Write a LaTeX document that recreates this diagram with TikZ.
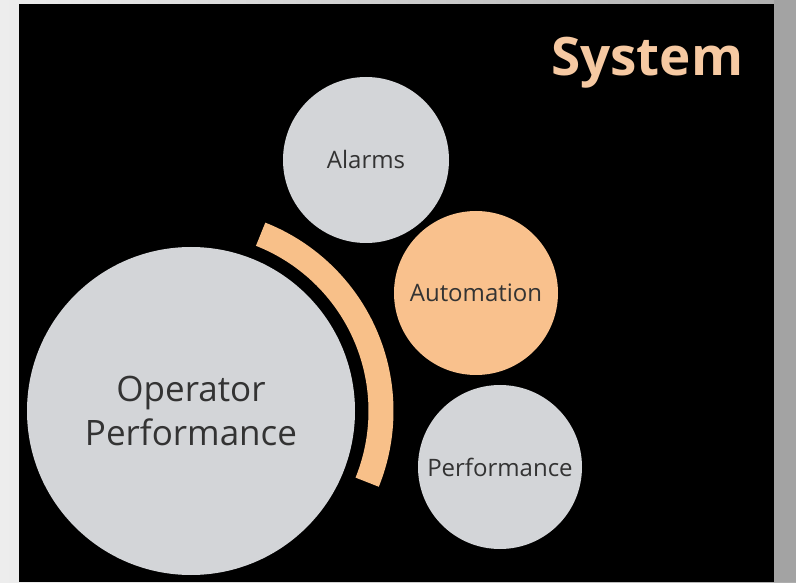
\documentclass[tikz,border=0pt]{standalone}
\usepackage{fontspec}
\setmainfont{Open Sans}
\usetikzlibrary{calc}
\definecolor{bubblegray}{HTML}{D3D5D8}
\definecolor{bubbleorange}{HTML}{F9C18D}
\definecolor{arcorange}{HTML}{F8C089}
\definecolor{labeltext}{HTML}{333333}
\definecolor{titletext}{HTML}{F6C9A2}
\definecolor{rightstrip}{HTML}{A3A3A3}
\begin{document}
\begin{tikzpicture}[x=1pt,y=1pt,
  bubble/.style={circle,inner sep=0pt,align=center,text=labeltext},
  smalllabel/.style={font=\fontsize{24}{28}\selectfont},
  biglabel/.style={font=\fontsize{35}{46}\selectfont}]
\useasboundingbox (0,0) rectangle (796,582);
\shade[left color=black!7, right color=black!32] (0,0) rectangle (796,582);
\fill[rightstrip] (774,0) rectangle (796,582);
\fill[black] (19,0) rectangle (774,578);
% arc band
\coordinate (arccenter) at (191,171);
\draw[arcorange,line width=25pt,line cap=butt]
  ($(arccenter)+(68.5:190)$) arc[start angle=68.5,end angle=-22,radius=190pt];
% bubbles
\node[bubble,fill=bubblegray,minimum size=328pt,biglabel] (operator) at (191,171) {Operator\\[-2pt]Performance};
\node[bubble,fill=bubblegray,minimum size=166pt,smalllabel] (alarms) at (366,422) {Alarms};
\node[bubble,fill=bubbleorange,minimum size=164pt,smalllabel] (automation) at (476,289) {Automation};
\node[bubble,fill=bubblegray,minimum size=164pt,smalllabel] (performance) at (500,115) {Performance};
% title
\node[anchor=base west,inner sep=0pt,text=titletext,font=\fontsize{53}{56}\selectfont\bfseries] (title) at (551,506) {System};
\end{tikzpicture}
\end{document}
